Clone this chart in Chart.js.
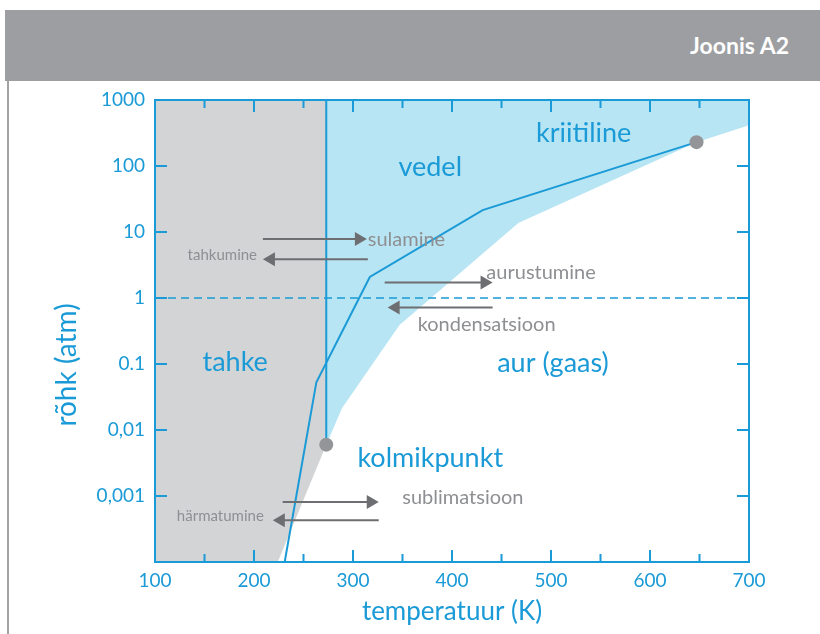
<!DOCTYPE html>
<html>
<head>
<meta charset="utf-8">
<script src="https://cdn.jsdelivr.net/npm/chart.js@4.4.0/dist/chart.umd.min.js"></script>
<style>
  html, body { margin: 0; padding: 0; background: #fff; }
  #wrap { position: relative; width: 820px; height: 634px; overflow: hidden; }
  #band { position: absolute; left: 5px; top: 10px; width: 815px; height: 71px; background: #9d9ea2; }
  #band span { position: absolute; right: 31px; top: 21px; font: bold 23px Lato, sans-serif; color: #fff; }
  #rule { position: absolute; left: 7px; top: 81px; width: 2px; height: 553px; background: #a3a3a5; }
  canvas { position: absolute; left: 0; top: 0; }
</style>
</head>
<body>
<div id="wrap">
  <div id="band"><span>Joonis A2</span></div>
  <div id="rule"></div>
  <canvas id="phase" width="820" height="634"></canvas>
</div>
<script>
// axes
const xTicks = [100, 150, 200, 250, 300, 350, 400, 450, 500, 550, 600, 650, 700];
const yTicks = [1000, 100, 10, 1, 0.1, 0.01, 0.001, 0.0001];
const yTickLabels = ["1000", "100", "10", "1", "0.1", "0,01", "0,001", ""];
const xTitle = "temperatuur (K)";
const yTitle = "rõhk (atm)";

// phase boundaries (T in K, p in atm)
const solidEdgeT = [100, 224, 273];
const solidEdgeP = [0.0001, 0.0001, 0.006];
const liquidEdgeT = [273, 289, 347, 467, 647, 700];
const liquidEdgeP = [0.006, 0.0215, 0.39, 13.7, 230, 415];
const curveT = [231, 263, 317, 431, 647];
const curveP = [0.0001, 0.053, 2.08, 21.5, 230];
const meltT = [273, 273];
const meltP = [0.006, 1000];
const oneAtmT = [100, 700];
const oneAtmP = [1, 1];
const markT = [273, 647];
const markP = [0.006, 230];

// labels
const phaseNames = ["vedel", "kriitiline", "tahke", "aur (gaas)", "kolmikpunkt"];
const phaseT = [378, 533, 181, 502, 378];
const phaseP = [96, 313, 0.107, 0.104, 0.0037];
const processNames = ["sulamine", "aurustumine", "kondensatsioon", "sublimatsioon"];
const processT = [354, 490, 435, 411];
const processP = [7.8, 2.39, 0.39, 0.00094];
const smallNames = ["tahkumine", "härmatumine"];
const smallT = [168, 166];
const smallP = [4.48, 0.0005];

// arrows: tail -> tip
const arrowFromT = [209, 315, 332, 441, 229, 326];
const arrowToT = [314, 209, 441, 335, 326, 219];
const arrowP = [7.8, 3.86, 1.71, 0.72, 0.00081, 0.00043];

const blue = "#1a9ad6";
const grey = "#8e8f92";
const arrowGrey = "#6d6e71";

const pts = (xs, ys) => xs.map((x, i) => ({x: x, y: ys[i]}));

const overlay = {
    id: "overlay",
    afterDatasetsDraw(chart) {
        const ctx = chart.ctx;
        const x = chart.scales.x, y = chart.scales.y;
        const a = chart.chartArea;
        ctx.save();

        // arrows
        ctx.strokeStyle = arrowGrey;
        ctx.fillStyle = arrowGrey;
        ctx.lineWidth = 2;
        arrowP.forEach((p, i) => {
            const py = y.getPixelForValue(p);
            const x0 = x.getPixelForValue(arrowFromT[i]);
            const x1 = x.getPixelForValue(arrowToT[i]);
            const dir = x1 > x0 ? 1 : -1;
            ctx.beginPath();
            ctx.moveTo(x0, py);
            ctx.lineTo(x1 - dir * 10, py);
            ctx.stroke();
            ctx.beginPath();
            ctx.moveTo(x1, py);
            ctx.lineTo(x1 - dir * 12, py - 7);
            ctx.lineTo(x1 - dir * 12, py + 7);
            ctx.closePath();
            ctx.fill();
        });

        // labels
        ctx.textAlign = "center";
        ctx.textBaseline = "middle";
        ctx.fillStyle = blue;
        ctx.font = "27px Lato";
        phaseNames.forEach((t, i) => {
            ctx.fillText(t, x.getPixelForValue(phaseT[i]), y.getPixelForValue(phaseP[i]));
        });
        ctx.fillStyle = grey;
        ctx.font = "20px Lato";
        processNames.forEach((t, i) => {
            ctx.fillText(t, x.getPixelForValue(processT[i]), y.getPixelForValue(processP[i]));
        });
        ctx.font = "15px Lato";
        smallNames.forEach((t, i) => {
            ctx.fillText(t, x.getPixelForValue(smallT[i]), y.getPixelForValue(smallP[i]));
        });

        // frame + inward ticks
        ctx.strokeStyle = blue;
        ctx.lineWidth = 2;
        ctx.strokeRect(a.left, a.top, a.right - a.left, a.bottom - a.top);
        ctx.beginPath();
        x.ticks.forEach(t => {
            const px = x.getPixelForValue(t.value);
            const len = t.value % 100 === 0 ? 12 : 8;
            ctx.moveTo(px, a.bottom); ctx.lineTo(px, a.bottom - len);
            ctx.moveTo(px, a.top); ctx.lineTo(px, a.top + len);
        });
        y.ticks.forEach(t => {
            const py = y.getPixelForValue(t.value);
            ctx.moveTo(a.left, py); ctx.lineTo(a.left + 12, py);
            ctx.moveTo(a.right, py); ctx.lineTo(a.right - 12, py);
        });
        ctx.stroke();

        // y axis title
        ctx.fillStyle = blue;
        ctx.font = "28px Lato";
        ctx.translate(a.left - 88, (a.top + a.bottom) / 2 + 34);
        ctx.rotate(-Math.PI / 2);
        ctx.fillText(yTitle, 0, 0);
        ctx.restore();
    }
};

Chart.defaults.font.family = "Lato";

new Chart(document.getElementById("phase"), {
    type: "line",
    data: {
        datasets: [
            {
                data: pts(markT, markP),
                showLine: false,
                pointRadius: 7,
                pointBackgroundColor: "#939598",
                pointBorderWidth: 0,
                order: 0
            },
            {
                data: pts(curveT, curveP),
                borderColor: blue,
                borderWidth: 2,
                pointRadius: 0,
                order: 1
            },
            {
                data: pts(meltT, meltP),
                borderColor: blue,
                borderWidth: 2,
                pointRadius: 0,
                order: 1
            },
            {
                data: pts(oneAtmT, oneAtmP),
                borderColor: blue,
                borderWidth: 1.5,
                borderDash: [8, 5],
                pointRadius: 0,
                order: 2
            },
            {
                data: pts(liquidEdgeT, liquidEdgeP),
                borderColor: "transparent",
                borderWidth: 0,
                backgroundColor: "#b8e5f3",
                fill: "end",
                pointRadius: 0,
                order: 10
            },
            {
                data: pts(solidEdgeT, solidEdgeP),
                borderColor: "transparent",
                borderWidth: 0,
                backgroundColor: "#d3d4d6",
                fill: "end",
                pointRadius: 0,
                order: 11
            }
        ]
    },
    options: {
        responsive: false,
        animation: false,
        layout: { padding: { left: 50, top: 100, right: 71, bottom: 0 } },
        plugins: {
            legend: { display: false },
            tooltip: { enabled: false },
            filler: { drawTime: "beforeDatasetsDraw" }
        },
        scales: {
            x: {
                type: "linear",
                min: 100,
                max: 700,
                afterBuildTicks: s => { s.ticks = xTicks.map(v => ({value: v})); },
                afterFit: s => { s.height = 72; },
                grid: { display: false, drawTicks: false },
                border: { display: false },
                ticks: {
                    color: blue,
                    font: { size: 19 },
                    padding: 7,
                    maxRotation: 0,
                    autoSkip: false,
                    callback: v => v % 100 === 0 ? String(v) : ""
                },
                title: {
                    display: true,
                    text: xTitle,
                    color: blue,
                    font: { size: 26 },
                    padding: { top: 0, bottom: 7 }
                }
            },
            y: {
                type: "logarithmic",
                min: 0.0001,
                max: 1000,
                afterBuildTicks: s => { s.ticks = yTicks.map(v => ({value: v})); },
                afterFit: s => { s.width = 105; },
                grid: { display: false, drawTicks: false },
                border: { display: false },
                ticks: {
                    color: blue,
                    font: { size: 19 },
                    padding: 10,
                    autoSkip: false,
                    callback: v => yTickLabels[yTicks.indexOf(v)]
                }
            }
        }
    },
    plugins: [overlay]
});
</script>
</body>
</html>
